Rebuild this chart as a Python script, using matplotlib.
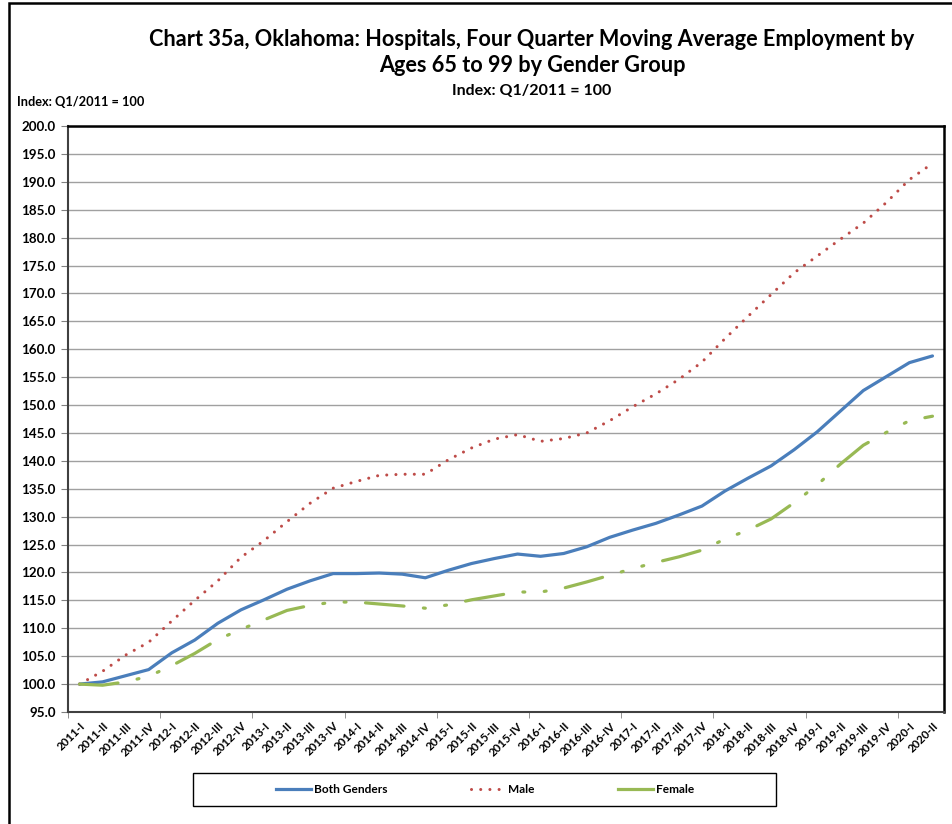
import matplotlib
matplotlib.use('Agg')
import matplotlib.pyplot as plt
from matplotlib.patches import Rectangle
from matplotlib.lines import Line2D

quarters = ["2011-I", "2011-II", "2011-III", "2011-IV",
            "2012-I", "2012-II", "2012-III", "2012-IV",
            "2013-I", "2013-II", "2013-III", "2013-IV",
            "2014-I", "2014-II", "2014-III", "2014-IV",
            "2015-I", "2015-II", "2015-III", "2015-IV",
            "2016-I", "2016-II", "2016-III", "2016-IV",
            "2017-I", "2017-II", "2017-III", "2017-IV",
            "2018-I", "2018-II", "2018-III", "2018-IV",
            "2019-I", "2019-II", "2019-III", "2019-IV",
            "2020-I", "2020-II"]

both_genders = [100.0, 100.4, 101.5, 102.6, 105.6, 107.9, 110.9, 113.3, 115.1, 117.0,
                118.5, 119.8, 119.8, 119.9, 119.7, 119.05, 120.4, 121.6, 122.5, 123.3,
                122.9, 123.4, 124.6, 126.3, 127.6, 128.8, 130.3, 131.9, 134.6, 136.9,
                139.1, 142.0, 145.2, 148.9, 152.6, 155.1, 157.6, 158.8]

male = [100.0, 102.3, 105.2, 107.5, 111.3, 115.0, 118.5, 122.7, 125.7, 129.1,
        132.4, 135.1, 136.3, 137.4, 137.6, 137.6, 140.2, 142.3, 143.9, 144.7,
        143.5, 144.0, 145.0, 147.2, 149.7, 152.0, 154.6, 157.7, 161.9, 165.9,
        169.8, 173.7, 176.7, 179.7, 182.6, 186.3, 190.4, 193.3]

female = [100.0, 99.8, 100.4, 101.4, 103.3, 105.5, 108.0, 109.8, 111.5, 113.2,
          114.1, 114.7, 114.7, 114.35, 114.0, 113.6, 114.2, 115.1, 115.8, 116.5,
          116.5, 117.2, 118.3, 119.5, 120.7, 121.8, 122.8, 124.0, 126.0, 127.6,
          129.6, 132.5, 135.7, 139.4, 142.8, 145.1, 147.2, 148.0]

yticks = [95 + 5 * k for k in range(22)]

plt.rcParams['font.family'] = ['Lato', 'DejaVu Sans']
plt.rcParams['font.weight'] = 'bold'

W, H = 952, 824
fig = plt.figure(figsize=(W / 100, H / 100), dpi=100)
fig.patch.set_facecolor('white')

ax = fig.add_axes([68 / W, 1 - 712 / H, (944 - 68) / W, (712 - 126) / H])

x = list(range(len(quarters)))
ax.plot(x, both_genders, color='#4A7EBB', lw=2.3, solid_capstyle='round', label='Both Genders', zorder=3)
ax.plot(x, male, color='#BE4B48', lw=2.2, linestyle=(0, (0.01, 3.0)), dash_capstyle='round',
        label='Male', zorder=3)
ax.plot(x, female, color='#98B954', lw=2.3, linestyle=(0, (12.1, 6.1, 0.6, 6.1, 0.6, 6.1)),
        dash_capstyle='round', label='Female', zorder=3)

ax.set_xlim(-0.5, len(quarters) - 0.5)
ax.set_ylim(95, 200)
ax.set_yticks(yticks)
ax.set_yticklabels([f"{v:.1f}" for v in yticks], fontsize=9.6, fontweight='bold')
ax.yaxis.grid(True, color='#A0A0A0', lw=1.0)
ax.set_axisbelow(True)

ax.set_xticks(x)
ax.set_xticklabels(quarters, rotation=45, ha='right', rotation_mode='anchor', fontsize=8.3,
                   fontweight='bold')
ax.tick_params(axis='x', which='major', length=0, pad=6)
ax.set_xticks([-0.5 + 4 * k for k in range(10)], minor=True)
ax.tick_params(axis='x', which='minor', length=4, color='#808080')
ax.tick_params(axis='y', length=5, color='#808080', pad=4)

for s in ['left', 'bottom']:
    ax.spines[s].set_color('#404040')
    ax.spines[s].set_linewidth(1.5)
for s in ['top', 'right']:
    ax.spines[s].set_color('black')
    ax.spines[s].set_linewidth(1.8)

fig.text(532 / W, 1 - 40 / H, "Chart 35a, Oklahoma: Hospitals, Four Quarter Moving Average Employment by",
         ha='center', va='center', fontsize=15.6, fontweight='bold')
fig.text(532 / W, 1 - 66 / H, "Ages 65 to 99 by Gender Group",
         ha='center', va='center', fontsize=15.6, fontweight='bold')
fig.text(532 / W, 1 - 91 / H, "Index: Q1/2011 = 100",
         ha='center', va='center', fontsize=11.5, fontweight='bold')
fig.text(17 / W, 1 - 102 / H, "Index: Q1/2011 = 100",
         ha='left', va='center', fontsize=9.2, fontweight='bold')

# outer chart frame
fig.add_artist(Rectangle((9 / W, -0.05), 1.0, 1.05 - 3 / H, transform=fig.transFigure,
                         fill=False, edgecolor='black', lw=1.8))

# legend box
fig.add_artist(Rectangle((193 / W, 1 - 806 / H), (776 - 193) / W, (806 - 773) / H,
                         transform=fig.transFigure, fill=False, edgecolor='black', lw=1.0))
handles = [Line2D([0], [0], color='#4A7EBB', lw=2.3),
           Line2D([0], [0], color='#BE4B48', lw=2.2, linestyle=(0, (0.01, 3.0)), dash_capstyle='round'),
           Line2D([0], [0], color='#98B954', lw=2.3)]
fig.legend(handles, ['Both Genders', 'Male', 'Female'], loc='center',
           bbox_to_anchor=(485 / W, 1 - 789.5 / H), ncol=3, frameon=False,
           prop={'size': 8.6, 'weight': 'bold'}, handlelength=2.94, handletextpad=0.2,
           columnspacing=7.0)

fig.savefig('out.png', dpi=100, facecolor='white')
